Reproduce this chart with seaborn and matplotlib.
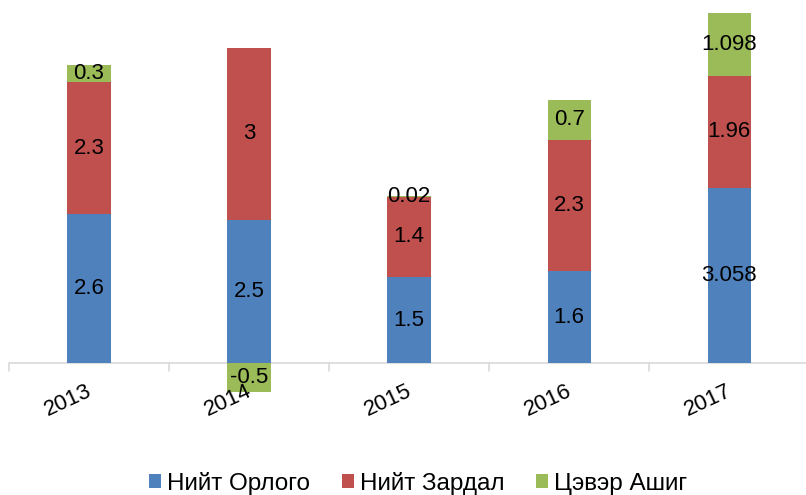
import pandas as pd
import matplotlib
matplotlib.use("Agg")
import matplotlib.pyplot as plt
import seaborn as sns
from matplotlib.patches import Patch

sns.set_style("white")
plt.rcParams["font.family"] = ["Liberation Sans", "DejaVu Sans"]
plt.rcParams["text.color"] = "black"

# Données
years = ["2013", "2014", "2015", "2016", "2017"]
orlogo = [2.6, 2.5, 1.5, 1.6, 3.058]
zardal = [2.3, 3, 1.4, 2.3, 1.96]
ashig = [0.3, -0.5, 0.02, 0.7, 1.098]
labels_orlogo = ["2.6", "2.5", "1.5", "1.6", "3.058"]
labels_zardal = ["2.3", "3", "1.4", "2.3", "1.96"]
labels_ashig = ["0.3", "-0.5", "0.02", "0.7", "1.098"]
series_names = ["Нийт Орлого", "Нийт Зардал", "Цэвэр Ашиг"]
colors = ["#4F81BD", "#C0504D", "#9BBB59"]

df = pd.DataFrame({"year": years, "orlogo": orlogo, "zardal": zardal, "ashig": ashig})
df["bottom_ashig"] = [o + z if a >= 0 else 0 for o, z, a in zip(orlogo, zardal, ashig)]

fig = plt.figure(figsize=(8.06, 4.95), dpi=100)
ax = fig.add_axes([9 / 806, 95 / 495, 797 / 806, 395 / 495])

w = 0.27
sns.barplot(data=df, x="year", y="orlogo", color=colors[0], width=w, ax=ax,
            saturation=1, linewidth=0, order=years)
sns.barplot(data=df, x="year", y="zardal", bottom=df["orlogo"], color=colors[1], width=w,
            ax=ax, saturation=1, linewidth=0, order=years)
sns.barplot(data=df, x="year", y="ashig", bottom=df["bottom_ashig"], color=colors[2], width=w,
            ax=ax, saturation=1, linewidth=0, order=years)

# Étiquettes de données
fs = 16
for i in range(len(years)):
    ax.text(i, orlogo[i] / 2, labels_orlogo[i], ha="center", va="center", fontsize=fs)
    ax.text(i, orlogo[i] + zardal[i] / 2, labels_zardal[i], ha="center", va="center", fontsize=fs)
    ax.text(i, df["bottom_ashig"][i] + ashig[i] / 2, labels_ashig[i], ha="center",
            va="center", fontsize=fs)

ax.set_ylim(-0.646, 6.25)
ax.set_xlim(-0.5, 4.48)
ax.set_yticks([])
ax.set_xlabel("")
ax.set_ylabel("")
for s in ["top", "right", "left", "bottom"]:
    ax.spines[s].set_visible(False)
ax.axhline(0, color="#d9d9d9", lw=1.2, zorder=0)

# Graduations aux limites des catégories
for b in [-0.5, 0.5, 1.5, 2.5, 3.5]:
    ax.plot([b, b], [0, -0.14], color="#d9d9d9", lw=1.2, clip_on=False)

ax.set_xticks(range(len(years)))
ax.set_xticklabels([])
for i, y in enumerate(years):
    ax.text(i - 0.13, -0.66, y, rotation=25, ha="center", va="center", fontsize=16,
            rotation_mode="anchor")
ax.tick_params(axis="x", length=0)

handles = [Patch(facecolor=c, edgecolor="none") for c in colors]
fig.legend(handles, series_names, loc="center", bbox_to_anchor=(0.519, 0.024), ncol=3,
           frameon=False, fontsize=17.5, handlelength=0.5, handleheight=0.5,
           handletextpad=0.25, columnspacing=1.3)

plt.savefig("out.png", dpi=100)
